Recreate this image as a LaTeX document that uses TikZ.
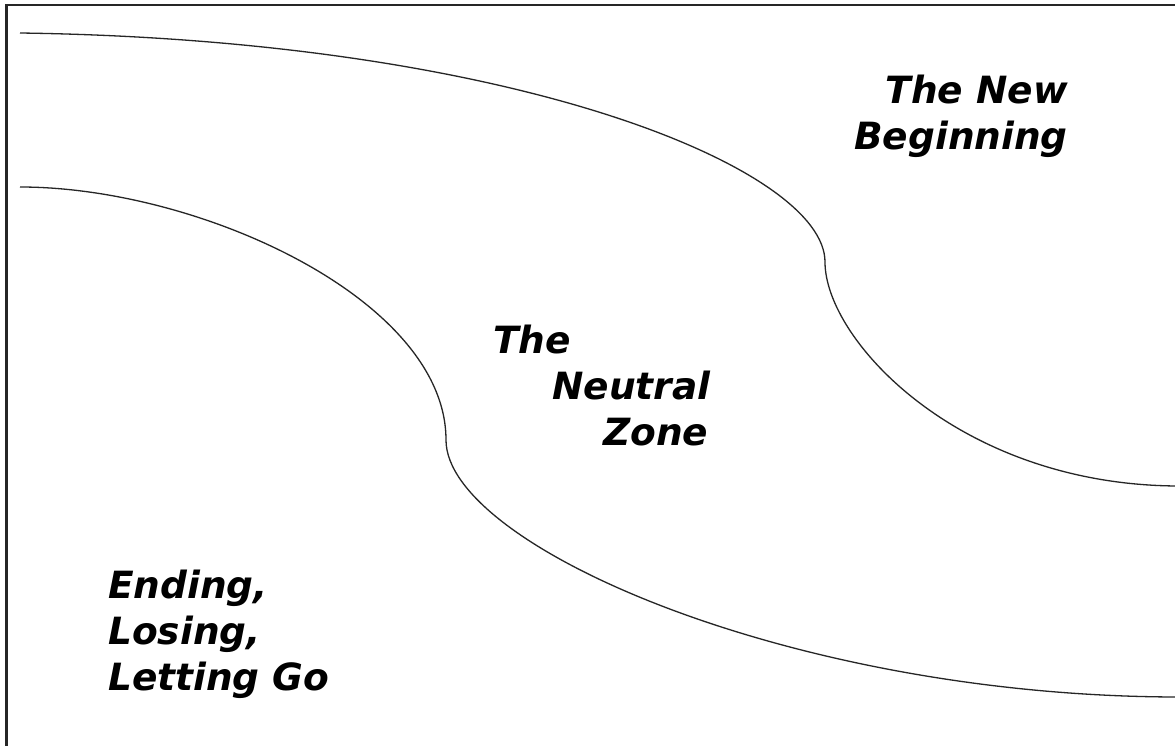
\documentclass[tikz,border=0pt]{standalone}
\usepackage{fontspec}
\newfontfamily\lblfont{DejaVu Sans}
\begin{document}
\begin{tikzpicture}[x=1pt,y=-1pt,
  curve/.style={line width=1.3pt,draw=black!85},
  frameline/.style={line width=2.2pt,draw=black!85},
  lbl/.style={font=\lblfont\bfseries\itshape\fontsize{37.5}{46}\selectfont,inner sep=0pt}]
\useasboundingbox (0,0) rectangle (1175,746);
\fill[white] (0,0) rectangle (1175,746);
\begin{scope}
\clip (0,0) rectangle (1175,746);
\draw[frameline] (6.5,5) rectangle (1190,760);
\coordinate (a0) at (20,33);
\coordinate (a1) at (825,262);
\coordinate (a2) at (1180,486);
\draw[curve] (a0) .. controls (520,40) and (825,170) .. (a1)
  .. controls (825,340) and (960,486) .. (a2);
\coordinate (b0) at (20,187);
\coordinate (b1) at (446,440);
\coordinate (b2) at (1180,697);
\draw[curve] (b0) .. controls (200,187) and (446,300) .. (b1)
  .. controls (446,545) and (790,697) .. (b2);
\end{scope}
\node[lbl,anchor=base east,align=right] (newbeg) at (1068,150) {The New\\Beginning};
\node[lbl,anchor=base west,align=left] (ending) at (108,690) {Ending,\\Losing,\\Letting Go};
\node[lbl,anchor=base west,align=left] (neutral) at (493,445) {The\\\hspace*{59pt}Neutral\\\hspace*{110pt}Zone};
\end{tikzpicture}
\end{document}
